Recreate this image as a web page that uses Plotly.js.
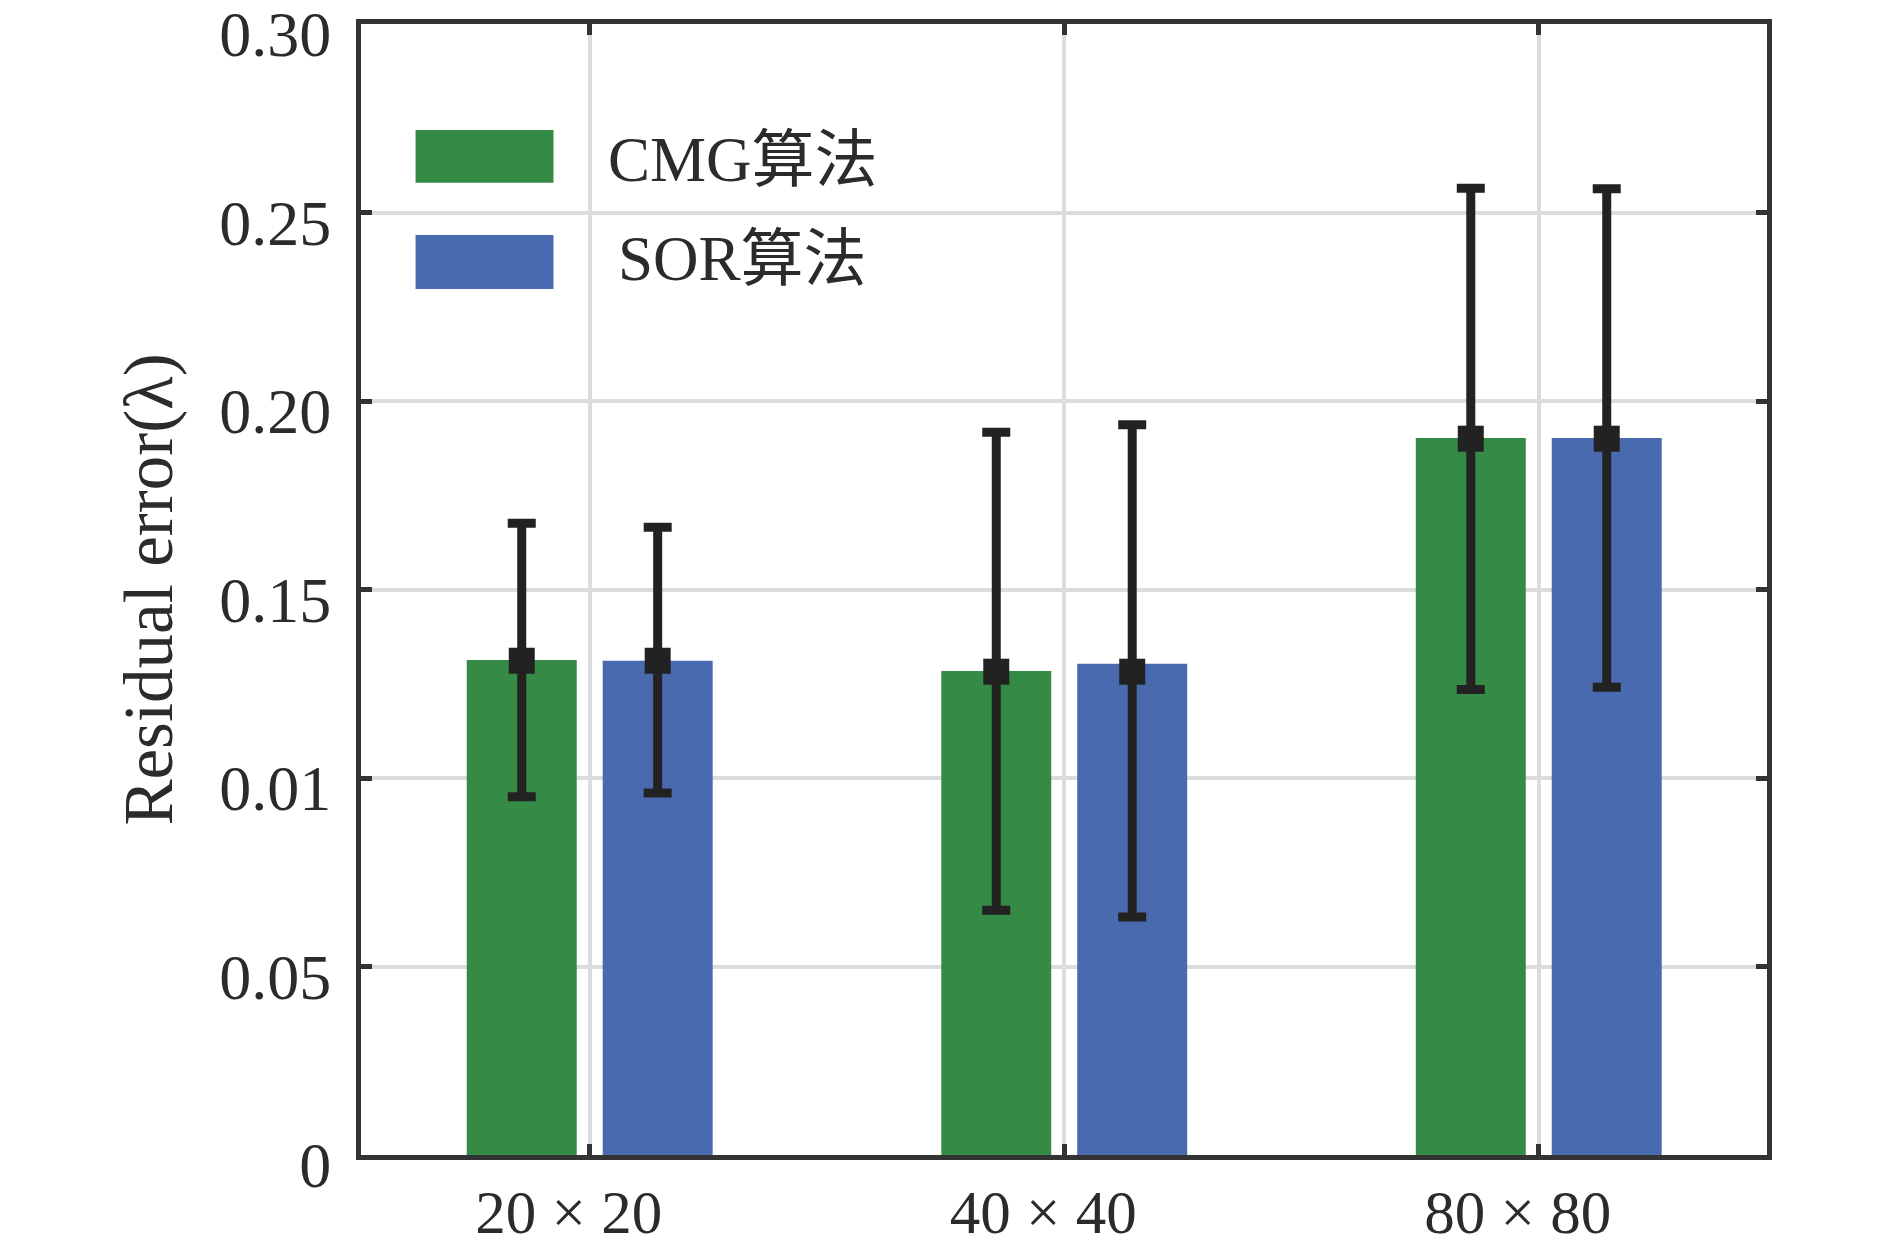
<!DOCTYPE html>
<html>
<head>
<meta charset="utf-8">
<script src="https://cdn.plot.ly/plotly-3.0.1.min.js"></script>
<style>html,body{margin:0;padding:0;background:#fff;}#chart{width:1890px;height:1252px;}</style>
</head>
<body>
<div id="chart"></div>
<script>
// ---- data ----
const categories = ['20 × 20', '40 × 40', '80 × 80'];
const seriesNames = ['CMG算法', 'SOR算法'];
const cmgBar = [0.1313, 0.1284, 0.1902];
const sorBar = [0.1311, 0.1303, 0.1902];
const cmgMean = [0.1311, 0.1282, 0.1900];
const sorMean = [0.1311, 0.1282, 0.1900];
const cmgUpper = [0.1676, 0.1917, 0.2564];
const cmgLower = [0.0950, 0.0649, 0.1235];
const sorUpper = [0.1665, 0.1937, 0.2563];
const sorLower = [0.0960, 0.0631, 0.1241];
const yTickVals = [0, 0.05, 0.10, 0.15, 0.20, 0.25, 0.30];
const yTickText = ['0', '0.05', '0.01', '0.15', '0.20', '0.25', '0.30'];

const colors = ['#358a45', '#4a6ab0'];
const errColor = '#222222';
const FONT = '"Liberation Serif", "Times New Roman", "Noto Sans CJK SC", serif';

function diff(a, b) { return a.map((v, i) => v - b[i]); }

const traces = [
  {type: 'bar', name: seriesNames[0], x: categories, y: cmgBar,
   marker: {color: colors[0], line: {width: 0}}, showlegend: false, hoverinfo: 'skip'},
  {type: 'bar', name: seriesNames[1], x: categories, y: sorBar,
   marker: {color: colors[1], line: {width: 0}}, showlegend: false, hoverinfo: 'skip'},
  {type: 'scatter', mode: 'markers', name: seriesNames[0] + ' err', x: categories, y: cmgMean,
   marker: {symbol: 'square', size: 26, color: errColor, line: {width: 0}},
   error_y: {type: 'data', symmetric: false, array: diff(cmgUpper, cmgMean), arrayminus: diff(cmgMean, cmgLower),
             color: errColor, thickness: 9, width: 14},
   showlegend: false, hoverinfo: 'skip'},
  {type: 'scatter', mode: 'markers', name: seriesNames[1] + ' err', x: categories, y: sorMean,
   marker: {symbol: 'square', size: 26, color: errColor, line: {width: 0}},
   error_y: {type: 'data', symmetric: false, array: diff(sorUpper, sorMean), arrayminus: diff(sorMean, sorLower),
             color: errColor, thickness: 9, width: 14},
   showlegend: false, hoverinfo: 'skip'}
];

// manual legend (big swatches like the reference)
const legendSwatch = [
  {x0: 0.0388, x1: 0.1369, y0: 0.8597, y1: 0.9063},
  {x0: 0.0388, x1: 0.1369, y0: 0.7657, y1: 0.8134}
];
const legendTextY = [0.8798, 0.7922];
const shapes = legendSwatch.map((s, i) => ({
  type: 'rect', xref: 'paper', yref: 'paper', x0: s.x0, x1: s.x1, y0: s.y0, y1: s.y1,
  fillcolor: colors[i], line: {width: 0}, layer: 'above'
}));
const annotations = seriesNames.map((n, i) => ({
  xref: 'paper', yref: 'paper', x: 0.2714, y: legendTextY[i], xanchor: 'center', yanchor: 'middle',
  text: n, showarrow: false, font: {family: FONT, size: 63, color: '#2b2b2b'}
}));

const axisCommon = {
  showline: true, linecolor: '#333333', linewidth: 5, mirror: 'ticks',
  ticks: 'inside', ticklen: 11, tickwidth: 5, tickcolor: '#333333',
  showgrid: true, gridcolor: '#dcdcdc', gridwidth: 4, zeroline: false,
  ticklabeloverflow: 'allow'
};

const layout = {
  width: 1890, height: 1252,
  margin: {l: 361, r: 123, t: 24, b: 97},
  paper_bgcolor: '#ffffff', plot_bgcolor: '#ffffff',
  barmode: 'group', bargap: 0.427, bargroupgap: 0.191,
  scattermode: 'group', scattergap: 0.427,
  showlegend: false,
  xaxis: Object.assign({}, axisCommon, {
    type: 'category', range: [-0.482, 2.481], ticklabelshift: -21, ticklabelstandoff: 0,
    tickfont: {family: FONT, size: 61, color: '#2b2b2b'}
  }),
  yaxis: Object.assign({}, axisCommon, {
    range: [0, 0.30], tickvals: yTickVals, ticktext: yTickText,
    ticklabelshift: 10, ticklabelstandoff: 12,
    tickfont: {family: FONT, size: 64, color: '#2b2b2b'},
    title: {text: 'Residual error(λ)', font: {family: FONT, size: 69, color: '#2b2b2b'}, standoff: 26}
  }),
  shapes: shapes,
  annotations: annotations
};

Plotly.newPlot('chart', traces, layout, {displayModeBar: false, staticPlot: true});
</script>
</body>
</html>
